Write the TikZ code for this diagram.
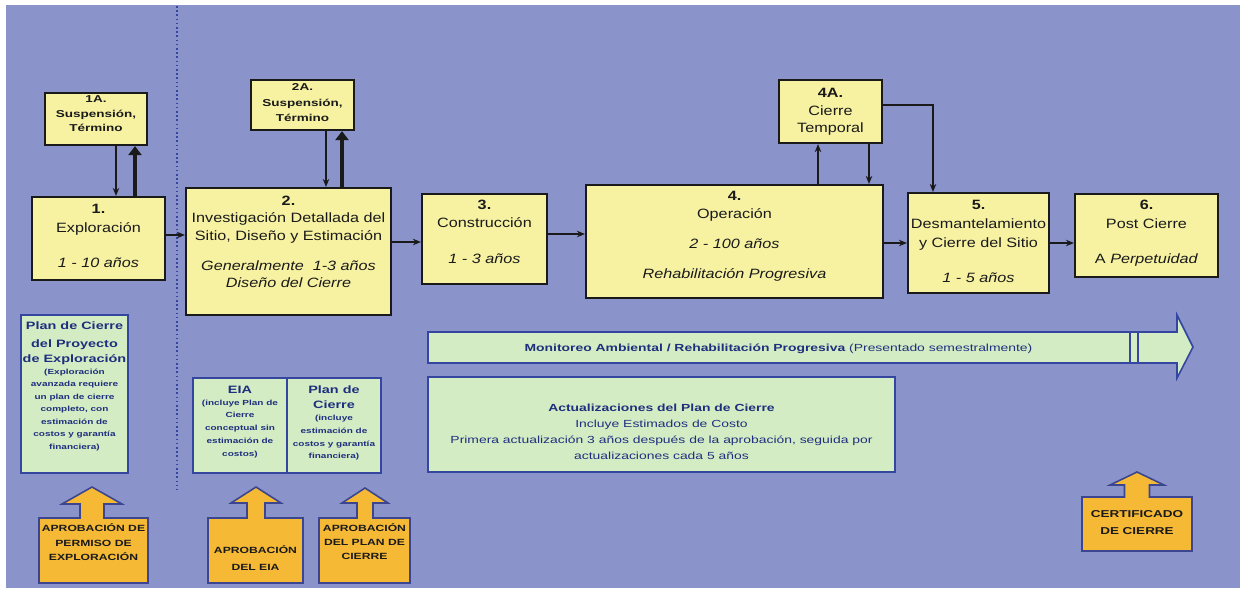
\documentclass[tikz,border=0pt]{standalone}
\usepackage{fontspec}
\setmainfont{Liberation Sans}[FakeStretch=1.2]
\newfontfamily\widefam{Liberation Sans}[FakeStretch=1.35]
\usetikzlibrary{arrows.meta}

\definecolor{bgblue}{HTML}{8B93CB}
\definecolor{pale}{HTML}{F7F2A2}
\definecolor{mint}{HTML}{D4ECC4}
\definecolor{navy}{HTML}{1E2F7E}
\definecolor{edgeblue}{HTML}{3446A0}
\definecolor{amber}{HTML}{F6B935}
\definecolor{amberedge}{HTML}{3C4690}
\definecolor{ink}{HTML}{1A1A1A}

\newcommand\fmain{\fontsize{13.5pt}{16pt}\selectfont}

% orange approval tag: box with an upward arrow on top
% #1 cx, #2 tip y, #3 wing y, #4 shaft half width, #5 wing half width,
% #6 left, #7 right, #8 box top, #9 box bottom
\newcommand\approvaltag[9]{%
  \draw[tagshape] (#6,#8) -- ({#1-#4},#8) -- ({#1-#4},#3) -- ({#1-#5},#3)
    -- (#1,#2) -- ({#1+#5},#3) -- ({#1+#4},#3) -- ({#1+#4},#8) -- (#7,#8)
    -- (#7,#9) -- (#6,#9) -- cycle;}

\tikzset{
  stage/.style={draw=ink, line width=2.2pt, fill=pale, inner sep=0pt},
  mintbox/.style={draw=edgeblue, line width=1.8pt, fill=mint, inner sep=0pt},
  tagshape/.style={draw=amberedge, line width=1.6pt, fill=amber, line join=miter},
  tl/.style={anchor=base, inner sep=0pt, text=ink},
  mainln/.style={tl, font=\fmain},
  numln/.style={tl, font=\fmain\bfseries},
  itln/.style={tl, font=\fmain\itshape},
  smallln/.style={tl, font=\widefam\bfseries\fontsize{10pt}{12pt}\selectfont},
  mhead/.style={tl, text=navy, font=\widefam\bfseries\fontsize{10.7pt}{12pt}\selectfont},
  mnote/.style={tl, text=navy, font=\widefam\bfseries\fontsize{7.4pt}{9pt}\selectfont},
  actln/.style={tl, text=navy, font=\widefam\fontsize{10.3pt}{12pt}\selectfont},
  tagln/.style={tl, font=\widefam\bfseries\fontsize{9pt}{11pt}\selectfont},
  arr/.style={draw=ink, line width=1.6pt, -{Stealth[length=8pt,width=6.5pt]}},
  bigarr/.style={draw=ink, line width=4.5pt, -{Triangle[length=9pt,width=13pt]}},
}

\begin{document}
\begin{tikzpicture}[x=1pt,y=-1pt]
\useasboundingbox (0,0) rectangle (1240,590);
\fill[white] (0,0) rectangle (1240,590);
\fill[bgblue] (6,5) rectangle (1240,588);

% phase separator
\draw[edgeblue, line width=1.4pt, dash pattern=on 1.6pt off 2.6pt] (177,6) -- (177,490);

% ---- stage boxes ----
\node[stage, minimum width=102pt, minimum height=52pt] (b1a) at (96,119) {};
\node[stage, minimum width=133pt, minimum height=83pt] (b1) at (98.5,238.5) {};
\node[stage, minimum width=103pt, minimum height=50pt] (b2a) at (302.5,105) {};
\node[stage, minimum width=205pt, minimum height=127pt] (b2) at (288.5,251.5) {};
\node[stage, minimum width=125pt, minimum height=90pt] (b3) at (484.5,239) {};
\node[stage, minimum width=297pt, minimum height=113pt] (b4) at (734.5,241.5) {};
\node[stage, minimum width=103pt, minimum height=63pt] (b4a) at (830.5,111.5) {};
\node[stage, minimum width=141pt, minimum height=100pt] (b5) at (978.5,243) {};
\node[stage, minimum width=143pt, minimum height=83pt] (b6) at (1146.5,235.5) {};

% 1A
\node[smallln] (t1a1) at (96,102) {1A.};
\node[smallln] (t1a2) at (96,117) {Suspensión,};
\node[smallln] (t1a3) at (96,131.5) {Término};
% 1
\node[numln] (t11) at (98.5,213) {1.};
\node[mainln] (t12) at (98.5,232) {Exploración};
\node[itln] (t13) at (98.5,267) {1 - 10 años};
% 2A
\node[smallln] (t2a1) at (302.5,90.5) {2A.};
\node[smallln] (t2a2) at (302.5,106.5) {Suspensión,};
\node[smallln] (t2a3) at (302.5,121.5) {Término};
% 2
\node[numln] (t21) at (288.5,205) {2.};
\node[mainln] (t22) at (288.5,222) {Investigación Detallada del};
\node[mainln] (t23) at (288.5,240) {Sitio, Diseño y Estimación};
\node[itln] (t24) at (288.5,270) {Generalmente~ 1-3 años};
\node[itln] (t25) at (288.5,287) {Diseño del Cierre};
% 3
\node[numln] (t31) at (484.5,209) {3.};
\node[mainln] (t32) at (484.5,227) {Construcción};
\node[itln] (t33) at (484.5,263) {1 - 3 años};
% 4
\node[numln] (t41) at (734.5,200) {4.};
\node[mainln] (t42) at (734.5,218) {Operación};
\node[itln] (t43) at (734.5,248) {2 - 100 años};
\node[itln] (t44) at (734.5,278) {Rehabilitación Progresiva};
% 4A
\node[numln] (t4a1) at (830.5,97) {4A.};
\node[mainln] (t4a2) at (830.5,115) {Cierre};
\node[mainln] (t4a3) at (830.5,132) {Temporal};
% 5
\node[numln] (t51) at (978.5,209) {5.};
\node[mainln] (t52) at (978.5,228) {Desmantelamiento};
\node[mainln] (t53) at (978.5,247) {y Cierre del Sitio};
\node[itln] (t54) at (978.5,282) {1 - 5 años};
% 6
\node[numln] (t61) at (1146.5,209) {6.};
\node[mainln] (t62) at (1146.5,228) {Post Cierre};
\node[mainln] (t63) at (1146.5,263) {A \textit{Perpetuidad}};

% ---- stage flow ----
\draw[arr] (b1.east |- 0,235) -- (b2.west |- 0,235);
\draw[arr] (b2.east |- 0,242) -- (b3.west |- 0,242);
\draw[arr] (b3.east |- 0,234) -- (b4.west |- 0,234);
\draw[arr] (b4.east |- 0,243) -- (b5.west |- 0,243);
\draw[arr] (b5.east |- 0,243) -- (b6.west |- 0,243);
\draw[arr] (116,0 |- b1a.south) -- (116,0 |- b1.north);
\draw[bigarr] (135,0 |- b1.north) -- (135,0 |- b1a.south);
\draw[arr] (326,0 |- b2a.south) -- (326,0 |- b2.north);
\draw[bigarr] (342,0 |- b2.north) -- (342,0 |- b2a.south);
\draw[arr] (818,0 |- b4.north) -- (818,0 |- b4a.south);
\draw[arr] (869,0 |- b4a.south) -- (869,0 |- b4.north);
\draw[arr] (b4a.east |- 0,105) -| (933,0 |- b5.north);

% ---- closure plan documents ----
\node[mintbox, minimum width=107pt, minimum height=158pt] (gexp) at (74.5,394) {};
\node[mhead] (te1) at (74.5,329) {Plan de Cierre};
\node[mhead] (te2) at (74.5,347) {del Proyecto};
\node[mhead] (te3) at (74.5,362.5) {de Exploración};
\node[mnote] (te4) at (74.5,374) {(Exploración};
\node[mnote] (te5) at (74.5,386.5) {avanzada requiere};
\node[mnote] (te6) at (74.5,399) {un plan de cierre};
\node[mnote] (te7) at (74.5,411.5) {completo, con};
\node[mnote] (te8) at (74.5,424) {estimación de};
\node[mnote] (te9) at (74.5,436.5) {costos y garantía};
\node[mnote] (te10) at (74.5,449) {financiera)};

\node[mintbox, minimum width=94pt, minimum height=95pt] (geia) at (240,425.5) {};
\node[mintbox, minimum width=94pt, minimum height=95pt] (gpc) at (334,425.5) {};
\node[mhead] (ti1) at (240,393) {EIA};
\node[mnote] (ti2) at (240,405) {(incluye Plan de};
\node[mnote] (ti3) at (240,417) {Cierre};
\node[mnote] (ti4) at (240,430) {conceptual sin};
\node[mnote] (ti5) at (240,443) {estimación de};
\node[mnote] (ti6) at (240,456) {costos)};
\node[mhead] (tp1) at (334,393) {Plan de};
\node[mhead] (tp2) at (334,408) {Cierre};
\node[mnote] (tp3) at (334,420) {(incluye};
\node[mnote] (tp4) at (334,433) {estimación de};
\node[mnote] (tp5) at (334,446) {costos y garantía};
\node[mnote] (tp6) at (334,458) {financiera)};

% monitoring band
\draw[draw=edgeblue, line width=1.6pt, fill=mint, line join=miter]
  (428,332) -- (1177,332) -- (1177,315) -- (1193,347) -- (1177,378)
  -- (1177,363) -- (428,363) -- cycle;
\draw[edgeblue, line width=1.8pt] (1130,332) -- (1130,363) (1138,332) -- (1138,363);
\node[actln] (mon) at (778.5,351)
  {\textbf{Monitoreo Ambiental / Rehabilitación Progresiva} (Presentado semestralmente)};

\node[mintbox, minimum width=467pt, minimum height=95pt] (gact) at (661.5,424.5) {};
\node[actln, font=\widefam\bfseries\fontsize{10.3pt}{12pt}\selectfont] (ta1) at (661.5,411) {Actualizaciones del Plan de Cierre};
\node[actln] (ta2) at (661.5,427) {Incluye Estimados de Costo};
\node[actln] (ta3) at (661.5,443) {Primera actualización 3 años después de la aprobación, seguida por};
\node[actln] (ta4) at (661.5,459) {actualizaciones cada 5 años};

% ---- approvals ----
\approvaltag{92}{487}{504}{12}{30}{39}{148}{518}{583}
\node[tagln] (ap1) at (93.5,531) {APROBACIÓN DE};
\node[tagln] (ap2) at (93.5,546) {PERMISO DE};
\node[tagln] (ap3) at (93.5,560) {EXPLORACIÓN};

\approvaltag{256}{487}{503}{9}{25}{208}{303}{518}{583}
\node[tagln] (ae1) at (255.5,553) {APROBACIÓN};
\node[tagln] (ae2) at (255.5,570) {DEL EIA};

\approvaltag{365}{488}{503}{8}{23}{319}{410}{518}{583}
\node[tagln] (apc1) at (364.5,531) {APROBACIÓN};
\node[tagln] (apc2) at (364.5,545) {DEL PLAN DE};
\node[tagln] (apc3) at (364.5,559) {CIERRE};

\approvaltag{1137}{472}{485}{12.5}{27}{1082}{1192}{497}{551}
\node[tagln, font=\widefam\bfseries\fontsize{10pt}{12pt}\selectfont] (cc1) at (1137,517) {CERTIFICADO};
\node[tagln, font=\widefam\bfseries\fontsize{10pt}{12pt}\selectfont] (cc2) at (1137,534) {DE CIERRE};
\end{tikzpicture}
\end{document}
